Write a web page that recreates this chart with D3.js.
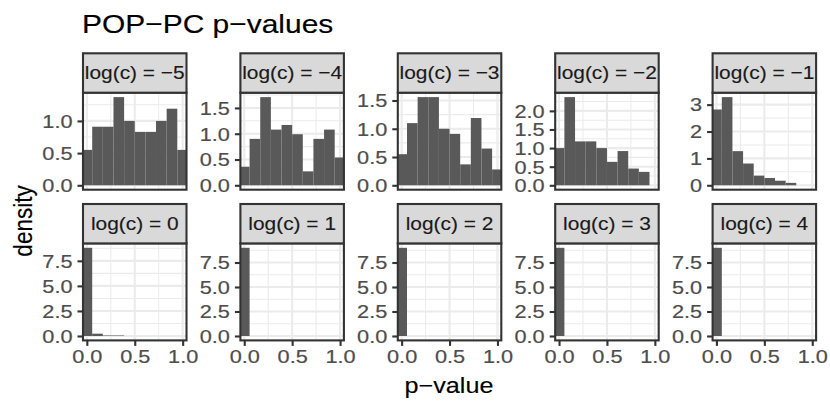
<!DOCTYPE html>
<html>
<head>
<meta charset="utf-8">
<script src="https://cdn.jsdelivr.net/npm/d3@7"></script>
<style>
  body { margin: 0; background: #fff; }
  text { font-family: "Liberation Sans", Arial, Helvetica, sans-serif; }
</style>
</head>
<body>
<script>
// facet labels, in panel order (row by row)
const facetLabels = [
  "log(c) = −5", "log(c) = −4", "log(c) = −3", "log(c) = −2", "log(c) = −1",
  "log(c) = 0", "log(c) = 1", "log(c) = 2", "log(c) = 3", "log(c) = 4"
]

// histogram bin edges (10 bins, shared by every panel)
const binEdges = [-0.056, 0.056, 0.167, 0.278, 0.389, 0.5, 0.611, 0.722, 0.833, 0.944, 1.056]

// density per bin
const densM5 = [0.55, 0.91, 0.91, 1.37, 1.00, 0.83, 0.83, 1.00, 1.19, 0.55]
const densM4 = [0.36, 0.90, 1.71, 1.08, 1.17, 0.99, 0.27, 0.90, 1.08, 0.54]
const densM3 = [0.55, 1.10, 1.56, 1.56, 1.00, 0.91, 0.37, 1.19, 0.65, 0.28]
const densM2 = [1.00, 2.37, 1.18, 1.18, 1.00, 0.63, 0.92, 0.45, 0.36, 0]
const densM1 = [2.82, 3.28, 1.27, 0.81, 0.36, 0.27, 0.17, 0.09, 0, 0]
const dens0  = [8.80, 0.23, 0.05, 0.05, 0, 0, 0, 0, 0, 0]
const dens1  = [9.00, 0, 0, 0, 0, 0, 0, 0, 0, 0]
const dens2  = [9.00, 0, 0, 0, 0, 0, 0, 0, 0, 0]
const dens3  = [9.00, 0, 0, 0, 0, 0, 0, 0, 0, 0]
const dens4  = [9.00, 0, 0, 0, 0, 0, 0, 0, 0, 0]

// tick labels
const xTickLabels = ["0.0", "0.5", "1.0"]
const yTicksM5 = ["0.0", "0.5", "1.0"]
const yTicksM4 = ["0.0", "0.5", "1.0", "1.5"]
const yTicksM3 = ["0.0", "0.5", "1.0", "1.5"]
const yTicksM2 = ["0.0", "0.5", "1.0", "1.5", "2.0"]
const yTicksM1 = ["0", "1", "2", "3"]
const yTicksHigh = ["0.0", "2.5", "5.0", "7.5"]

const panelDens = [densM5, densM4, densM3, densM2, densM1, dens0, dens1, dens2, dens3, dens4]
const panelTicks = [yTicksM5, yTicksM4, yTicksM3, yTicksM2, yTicksM1,
  yTicksHigh, yTicksHigh, yTicksHigh, yTicksHigh, yTicksHigh]

// layout (the picture is a bit wider than tall, so text gets a sideways stretch)
const panelLeft0 = 83, colStep = 157.4, panelW = 103.5, panelH = 97
const stripTops = [53.3, 204], stripH = 39.4
const lw = 2.1, tickLen = 5.5
const fsTick = 18.4, sxTick = 1.18
const fsStrip = 19, sxStrip = 1.1

const svg = d3.select("body").append("svg")
  .attr("width", 830)
  .attr("height", 415)

const x = d3.scaleLinear()
  .domain([-0.04, 1.04])
  .range([0, panelW])

const xMinor = [0.25, 0.75]

panelDens.forEach((dens, i) => {
  const col = i % 5, row = Math.floor(i / 5)
  const left = panelLeft0 + col * colStep
  const top = stripTops[row] + stripH
  const ymax = d3.max(dens)

  const y = d3.scaleLinear()
    .domain([-0.05 * ymax, 1.05 * ymax])
    .range([panelH, 0])

  const ticks = panelTicks[i].map(s => +s)
  const step = ticks[1] - ticks[0]
  const yMinor = ticks.concat([ticks[ticks.length - 1] + step])
    .map(t => t - step / 2)
    .filter(t => t > y.domain()[0] && t < y.domain()[1])

  const g = svg.append("g").attr("transform", "translate(" + left + "," + top + ")")

  g.append("clipPath").attr("id", "clip" + i)
    .append("rect").attr("width", panelW).attr("height", panelH)

  g.append("rect") // panel background
    .attr("width", panelW).attr("height", panelH).attr("fill", "#fff")

  const grid = g.append("g").attr("stroke", "#ebebeb")
  grid.selectAll(".ymin").data(yMinor).enter().append("line")
    .attr("x1", 0).attr("x2", panelW)
    .attr("y1", d => y(d)).attr("y2", d => y(d))
    .attr("stroke-width", lw / 2)
  grid.selectAll(".xmin").data(xMinor).enter().append("line")
    .attr("y1", 0).attr("y2", panelH)
    .attr("x1", d => x(d)).attr("x2", d => x(d))
    .attr("stroke-width", lw / 2)
  grid.selectAll(".ymaj").data(ticks).enter().append("line")
    .attr("x1", 0).attr("x2", panelW)
    .attr("y1", d => y(d)).attr("y2", d => y(d))
    .attr("stroke-width", lw)
  grid.selectAll(".xmaj").data(xTickLabels.map(s => +s)).enter().append("line")
    .attr("y1", 0).attr("y2", panelH)
    .attr("x1", d => x(d)).attr("x2", d => x(d))
    .attr("stroke-width", lw)

  const bins = dens.map((d, k) => ({ x0: binEdges[k], x1: binEdges[k + 1], d: d }))
    .filter(b => b.d > 0)

  g.append("g").attr("clip-path", "url(#clip" + i + ")")
    .selectAll("rect")
    .data(bins)
    .enter()
    .append("rect")
    .attr("x", b => x(b.x0))
    .attr("width", b => x(b.x1) - x(b.x0))
    .attr("y", b => y(b.d))
    .attr("height", b => y(0) - y(b.d))
    .attr("fill", "#595959")

  g.append("rect") // panel border
    .attr("width", panelW).attr("height", panelH)
    .attr("fill", "none").attr("stroke", "#333").attr("stroke-width", lw)

  // y axis
  const yAxis = g.append("g")
    .call(d3.axisLeft(y).tickValues(ticks).tickFormat((d, k) => panelTicks[i][k]).tickSize(tickLen))
  yAxis.select(".domain").remove()
  yAxis.selectAll(".tick line").attr("stroke", "#333").attr("stroke-width", lw)
  yAxis.selectAll(".tick text")
    .attr("x", null).attr("dy", null)
    .attr("transform", "translate(" + (-tickLen - 5) + "," + (0.345 * fsTick) + ") scale(" + sxTick + ",1)")
    .attr("fill", "#4d4d4d")
    .attr("stroke", "#4d4d4d").attr("stroke-width", 0.2)
    .attr("font-size", fsTick)
  yAxis.attr("font-size", null).attr("font-family", null)

  // x axis on the bottom row only
  if (row === 1) {
    const xAxis = g.append("g")
      .attr("transform", "translate(0," + panelH + ")")
      .call(d3.axisBottom(x).tickValues(xTickLabels.map(s => +s)).tickFormat((d, k) => xTickLabels[k]).tickSize(tickLen))
    xAxis.select(".domain").remove()
    xAxis.selectAll(".tick line").attr("stroke", "#333").attr("stroke-width", lw)
    xAxis.selectAll(".tick text")
      .attr("y", null).attr("dy", null)
      .attr("transform", "translate(0," + (tickLen + 4.4 + 0.69 * fsTick) + ") scale(" + sxTick + ",1)")
      .attr("fill", "#4d4d4d")
      .attr("stroke", "#4d4d4d").attr("stroke-width", 0.2)
      .attr("font-size", fsTick)
    xAxis.attr("font-size", null).attr("font-family", null)
  }

  // strip
  const strip = svg.append("g").attr("transform", "translate(" + left + "," + stripTops[row] + ")")
  strip.append("rect")
    .attr("width", panelW).attr("height", stripH)
    .attr("fill", "#d9d9d9").attr("stroke", "#333").attr("stroke-width", lw)
  strip.append("text")
    .attr("transform", "translate(" + (panelW / 2) + "," + (stripH / 2 + 0.34 * fsStrip) + ") scale(" + sxStrip + ",1)")
    .attr("text-anchor", "middle")
    .attr("font-size", fsStrip)
    .attr("fill", "#1a1a1a")
    .attr("stroke", "#1a1a1a").attr("stroke-width", 0.15)
    .text(facetLabels[i])
})

// titles
svg.append("text")
  .attr("transform", "translate(82,33) scale(1.13,1)")
  .attr("font-size", 26.5)
  .attr("stroke", "#000").attr("stroke-width", 0.15)
  .text("POP−PC p−values")

svg.append("text")
  .attr("transform", "translate(449,393) scale(1.12,1)")
  .attr("text-anchor", "middle")
  .attr("font-size", 22.5)
  .attr("stroke", "#000").attr("stroke-width", 0.15)
  .text("p−value")

svg.append("text")
  .attr("transform", "translate(31.5,221) scale(1.12,1) rotate(-90)")
  .attr("text-anchor", "middle")
  .attr("font-size", 22.5)
  .attr("stroke", "#000").attr("stroke-width", 0.15)
  .text("density")
</script>
</body>
</html>
